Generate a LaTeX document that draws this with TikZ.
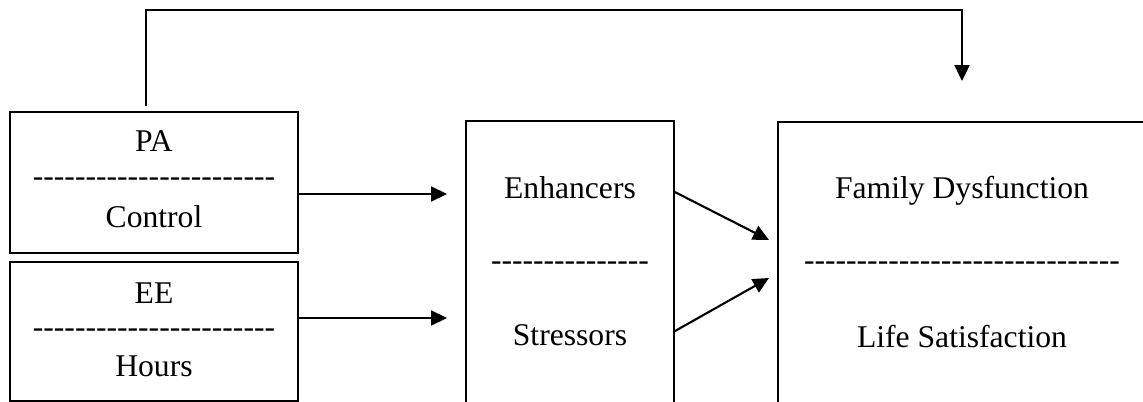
\documentclass[tikz,border=0pt]{standalone}
\usepackage{fontspec}
\setmainfont{Liberation Serif}
\usetikzlibrary{positioning,arrows.meta,calc}
\newcommand{\dashrow}[1]{\foreach \k in {1,...,#1}{-\kern0pt}}

\begin{document}
\begin{tikzpicture}[
    x=0.02cm, y=-0.02cm,
    box/.style={rectangle, draw=black, line width=1.1pt, inner sep=0pt},
    txt/.style={inner sep=0pt, anchor=base, font=\fontsize{18}{21}\selectfont},
    arrow/.style={-{Triangle[length=0.32cm,width=0.3cm]}, line width=1.2pt}
]
\clip (0,0) rectangle (1143,402);

% boxes
\node[box, minimum width=5.76cm, minimum height=2.82cm] (pa) at (154,182.5) {};
\node[box, minimum width=5.76cm, minimum height=2.78cm] (ee) at (154,331.5) {};
\node[box, minimum width=4.16cm, minimum height=6.38cm] (mid) at (570,280.5) {};
\node[box, minimum width=7.36cm, minimum height=6.36cm] (fam) at (962,281) {};

% texts
\node[txt] (pa1) at (154,152) {PA};
\node[txt] (pa2) at (154,187) {\dashrow{23}};
\node[txt] (pa3) at (154,227) {Control};
\node[txt] (ee1) at (154,303) {EE};
\node[txt] (ee2) at (154,337) {\dashrow{23}};
\node[txt] (ee3) at (154,376) {Hours};
\node[txt] (mid1) at (570,198) {Enhancers};
\node[txt] (mid2) at (570,270) {\dashrow{15}};
\node[txt] (mid3) at (570,345) {Stressors};
\node[txt] (fam1) at (962,198) {Family Dysfunction};
\node[txt] (fam2) at (962,270) {\dashrow{30}};
\node[txt] (fam3) at (962,347) {Life Satisfaction};

% arrow ends
\coordinate (in1) at (447,194);
\coordinate (in2) at (447,318);
\coordinate (tip1) at (769,240);
\coordinate (tip2) at (769,278);
\coordinate (fbtip) at ($(fam.north)+(0,-40)$);

\draw[arrow] (pa.east |- in1) -- (in1);
\draw[arrow] (ee.east |- in2) -- (in2);
\draw[arrow] ($(mid.north east)+(0,72)$) -- (tip1);
\draw[arrow] ($(mid.north east)+(0,211)$) -- (tip2);
\draw[arrow] ($(pa.north)+(-8,-5)$) -- ++(0,-96) -| (fbtip);

\end{tikzpicture}
\end{document}
